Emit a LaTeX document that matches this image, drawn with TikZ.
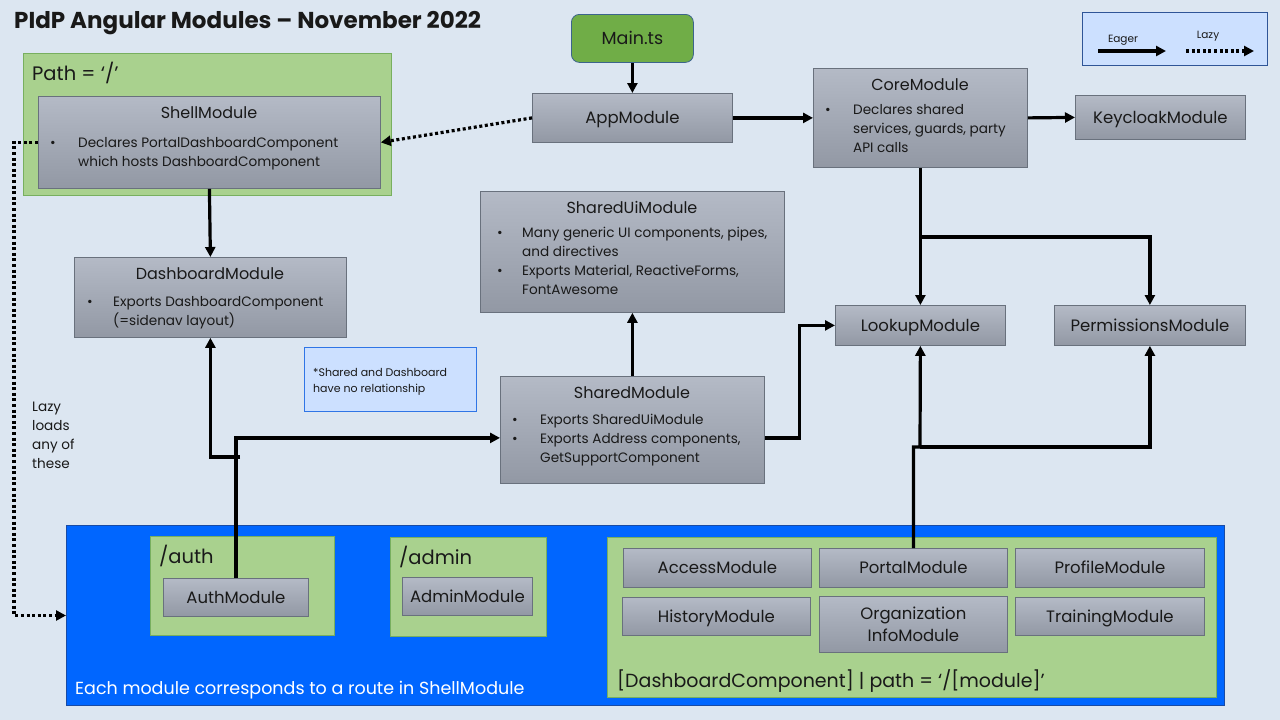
\documentclass[tikz,border=0pt]{standalone}
\usepackage{fontspec}
\setmainfont{Poppins}
\usetikzlibrary{arrows.meta, positioning, calc}
\definecolor{canvas}{RGB}{220,230,241}
\definecolor{ink}{RGB}{25,25,25}
\definecolor{routegreen}{RGB}{169,209,142}
\definecolor{greenedge}{RGB}{120,175,95}
\definecolor{modtop}{RGB}{180,186,198}
\definecolor{modbot}{RGB}{146,152,164}
\definecolor{modedge}{RGB}{105,113,125}
\definecolor{mainfill}{RGB}{112,173,71}
\definecolor{mainedge}{RGB}{60,100,140}
\definecolor{routeblue}{RGB}{0,102,255}
\definecolor{blueedge}{RGB}{25,75,165}
\definecolor{notefill}{RGB}{204,224,255}
\definecolor{noteedge}{RGB}{47,117,230}
\definecolor{legendedge}{RGB}{47,85,151}

\newcommand{\blist}[2][28pt]{\begin{tabular}[t]{@{}p{#1}@{}l@{}}#2\end{tabular}}
\newcommand{\stack}[1]{\begin{tabular}[t]{@{}l@{}}#1\end{tabular}}

\tikzset{
  modbox/.style={draw=modedge, line width=0.8pt, top color=modtop, bottom color=modbot, inner sep=0pt, anchor=north west},
  greenbox/.style={draw=greenedge, line width=0.8pt, fill=routegreen, inner sep=0pt, anchor=north west},
  modtitle/.style={font=\fontsize{16}{19}\selectfont},
  modlabel/.style={font=\fontsize{16.5}{19}\selectfont, text height=11.5pt, text depth=0pt},
  routelabel/.style={anchor=west, inner sep=0pt, font=\fontsize{19.5}{22}\selectfont},
  bullets/.style={anchor=base west, inner sep=0pt, font=\fontsize{13.6}{19.2}\selectfont},
  eager/.style={line width=3.2pt, -{Triangle[length=10pt,width=10pt]}},
  lazy/.style={line width=3.2pt, dash pattern=on 3pt off 2.6pt, -{Triangle[length=10pt,width=10pt]}}
}

\begin{document}
\begin{tikzpicture}[x=1pt, y=-1pt, every node/.style={text=ink}]
  \fill[canvas] (0,0) rectangle (1280,720);
  \useasboundingbox (0,0) rectangle (1280,720);

  \node[anchor=base west, inner sep=0pt, font=\fontsize{23}{26}\selectfont\bfseries] (title) at (14,28) {PIdP Angular Modules – November 2022};

  % legend
  \node[draw=legendedge, line width=0.8pt, fill=notefill, minimum width=185, minimum height=53, anchor=north west] (legend) at (1082,12) {};
  \node[font=\fontsize{10.5}{12}\selectfont] (eagerlbl) at (1123,40) {Eager};
  \node[font=\fontsize{10.5}{12}\selectfont] (lazylbl) at (1208,36) {Lazy};
  \coordinate (eagerA) at (1098,51);
  \coordinate (eagerB) at (1166,51);
  \coordinate (lazyA) at (1186,51);
  \coordinate (lazyB) at (1254,51);
  \draw[eager] (eagerA) -- (eagerB);
  \draw[lazy] (lazyA) -- (lazyB);

  % root route
  \node[greenbox, minimum width=368, minimum height=142] (pathbox) at (23,53) {};
  \node[routelabel] (pathlbl) at (32,73) {Path = ‘/’};
  \node[modbox, minimum width=342, minimum height=92] (shell) at (38,96) {};
  \node[modtitle] (shelltitle) at (209,113) {ShellModule};
  \node[bullets] (shelltext) at (50,147) {\blist{\textbullet & Declares PortalDashboardComponent\\ & which hosts DashboardComponent}};

  % bootstrap
  \node[draw=mainedge, line width=0.8pt, fill=mainfill, rounded corners=8pt, minimum width=122, minimum height=48, anchor=north west, font=\fontsize{17.5}{20}\selectfont] (mainfile) at (571,14) {Main.ts};
  \node[modbox, modlabel, minimum width=200, minimum height=49] (app) at (532,93) {AppModule};

  \node[modbox, minimum width=214, minimum height=99] (core) at (813,68) {};
  \node[modtitle] (coretitle) at (920,85) {CoreModule};
  \node[bullets] (coretext) at (825,114) {\blist{\textbullet & Declares shared\\ & services, guards, party\\ & API calls}};
  \node[modbox, modlabel, minimum width=170, minimum height=44] (keycloak) at (1075,95) {KeycloakModule};

  \node[modbox, minimum width=304, minimum height=121] (sharedui) at (480,191) {};
  \node[modtitle] (shareduititle) at (632,207) {SharedUiModule};
  \node[bullets] (shareduitext) at (497,237) {\blist[25pt]{\textbullet & Many generic UI components, pipes,\\ & and directives\\ \textbullet & Exports Material, ReactiveForms,\\ & FontAwesome}};

  \node[modbox, minimum width=272, minimum height=80] (dashboard) at (74,257) {};
  \node[modtitle] (dashtitle) at (210,274) {DashboardModule};
  \node[bullets] (dashtext) at (87,306) {\blist[26pt]{\textbullet & Exports DashboardComponent\\ & (=sidenav layout)}};

  \node[draw=noteedge, line width=0.8pt, fill=notefill, minimum width=172, minimum height=64, anchor=north west] (note) at (304,347) {};
  \node[anchor=base west, inner sep=0pt, font=\fontsize{11}{16}\selectfont] (notetext) at (313,376) {\stack{*Shared and Dashboard\\have no relationship}};

  \node[modbox, minimum width=264, minimum height=107] (shared) at (500,376) {};
  \node[modtitle] (sharedtitle) at (632,393) {SharedModule};
  \node[bullets] (sharedtext) at (512,424) {\blist{\textbullet & Exports SharedUiModule\\ \textbullet & Exports Address components,\\ & GetSupportComponent}};

  \node[modbox, modlabel, minimum width=170, minimum height=40] (lookup) at (835,305) {LookupModule};
  \node[modbox, modlabel, minimum width=191, minimum height=40] (perms) at (1054,305) {PermissionsModule};

  \node[bullets] (lazytext) at (32,411) {\stack{Lazy\\loads\\any of\\these}};

  % feature routes
  \node[draw=blueedge, line width=1pt, fill=routeblue, minimum width=1158, minimum height=180, anchor=north west] (routes) at (66,525) {};
  \node[anchor=base west, inner sep=0pt, text=white, font=\fontsize{17.5}{20}\selectfont] (routestext) at (75,694) {Each module corresponds to a route in ShellModule};

  \node[greenbox, minimum width=184, minimum height=99] (authbox) at (150,536) {};
  \node[routelabel] (authlbl) at (159,556) {/auth};
  \node[modbox, modlabel, minimum width=145, minimum height=38] (auth) at (163,578) {AuthModule};

  \node[greenbox, minimum width=156, minimum height=99] (adminbox) at (390,537) {};
  \node[routelabel] (adminlbl) at (399,557) {/admin};
  \node[modbox, modlabel, minimum width=130, minimum height=38] (admin) at (402,577) {AdminModule};

  \node[greenbox, minimum width=609, minimum height=160] (dashbox) at (607,537) {};
  \node[modbox, modlabel, minimum width=188, minimum height=39] (access) at (623,548) {AccessModule};
  \node[modbox, modlabel, minimum width=188, minimum height=39] (portal) at (819,548) {PortalModule};
  \node[modbox, modlabel, minimum width=189, minimum height=39] (profile) at (1015,548) {ProfileModule};
  \node[modbox, modlabel, minimum width=188, minimum height=38] (history) at (622,597) {HistoryModule};
  \node[modbox, font=\fontsize{16.5}{22}\selectfont, minimum width=188, minimum height=56, align=center] (orginfo) at (819,596) {Organization\\InfoModule};
  \node[modbox, modlabel, minimum width=189, minimum height=38] (training) at (1015,597) {TrainingModule};
  \node[routelabel, font=\fontsize{19}{22}\selectfont] (dashlbl) at (617,681) {[DashboardComponent] | path = ‘/[module]’};

  % eager imports
  \draw[eager] (mainfile.south) -- (app.north);
  \draw[eager] (app.east) -- (core.west);
  \draw[eager] (core.east) -- (keycloak.west);
  \draw[eager] (shell.south) -- (dashboard.north);
  \coordinate (coresplit) at (920,237);
  \draw[eager] (core.south) -- (lookup.north);
  \draw[eager] (coresplit) -| (perms.north);
  \draw[eager] (shared.north) -- (sharedui.south);
  \draw[eager] ([yshift=-8pt]shared.east) -- ++(35,0) |- (lookup.west);
  \coordinate (authsplit) at (240,457);
  \draw[eager] (auth.north) |- ([yshift=-8pt]shared.west);
  \draw[eager] (authsplit) -| (dashboard.south);
  \coordinate (portalsplit) at (920,447);
  \draw[eager] (portal.north) |- (portalsplit) -- (lookup.south);
  \draw[eager] (portalsplit) -| (perms.south);

  % lazy loads
  \draw[lazy] (app.west) -- (shell.east);
  \draw[lazy] (shell.west) -- ++(-24,0) |- (routes.west);
\end{tikzpicture}
\end{document}
